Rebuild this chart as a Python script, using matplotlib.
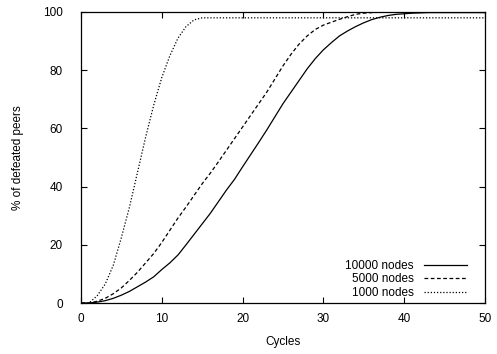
import numpy as np
import matplotlib.pyplot as plt

plt.rcParams['font.family'] = ['Liberation Sans', 'DejaVu Sans']

cycles = [0, 1, 2, 3, 4, 5, 6, 7, 8, 9, 10, 11, 12, 13, 14, 15, 16, 17, 18, 19,
          20, 21, 22, 23, 24, 25, 26, 27, 28, 29, 30, 31, 32, 33, 34, 35, 36, 37,
          38, 39, 40, 41, 42, 43, 44, 45, 46, 47, 48, 49, 50]

nodes_10000 = [0, 0, 0.3, 0.8, 1.6, 2.7, 4.0, 5.6, 7.2, 9.0, 11.5, 13.8, 16.5,
               20.0, 23.6, 27.2, 30.8, 34.8, 38.8, 42.5, 46.8, 51.0, 55.2, 59.5,
               64.0, 68.5, 72.5, 76.5, 80.5, 84.0, 87.0, 89.5, 91.8, 93.5, 95.0,
               96.3, 97.4, 98.2, 98.8, 99.2, 99.4, 99.6, 99.7, 99.8, 99.8, 99.8,
               99.8, 99.8, 99.8, 99.8, 99.8]
nodes_5000 = [0, 0, 0.6, 1.6, 3.2, 5.2, 7.8, 10.6, 13.8, 17.0, 20.8, 25.0, 29.2,
              33.0, 37.0, 41.0, 44.6, 48.5, 52.5, 56.5, 60.5, 64.5, 68.5, 72.5,
              77.0, 81.5, 85.5, 89.0, 91.8, 94.0, 95.5, 96.5, 97.5, 98.4, 99.2,
              99.6, 99.8, 99.9, 100, 100, 100, 100, 100, 100, 100, 100, 100, 100,
              100, 100, 100]
nodes_1000 = [0, 0, 2.5, 6.5, 13.0, 22.5, 33.0, 45.0, 57.0, 68.0, 77.5, 85.0,
              91.0, 95.0, 97.3, 98.0, 98.0, 98.0, 98.0, 98.0, 98.0, 98.0, 98.0,
              98.0, 98.0, 98.0, 98.0, 98.0, 98.0, 98.0, 98.0, 98.0, 98.0, 98.0,
              98.0, 98.0, 98.0, 98.0, 98.0, 98.0, 98.0, 98.0, 98.0, 98.0, 98.0,
              98.0, 98.0, 98.0, 98.0, 98.0, 98.0]

fig = plt.figure(figsize=(4.97, 3.54), dpi=100)
ax = fig.add_axes([81 / 497, 51 / 354, 404 / 497, 291 / 354])

ax.plot(cycles, nodes_10000, color='black', lw=0.9, ls='-', label='10000 nodes')
ax.plot(cycles, nodes_5000, color='black', lw=0.9, ls=(0, (3, 2)), label='5000 nodes')
ax.plot(cycles, nodes_1000, color='black', lw=0.9, ls=(0, (1, 1.5)), label='1000 nodes')

ax.set_xlim(0, 50)
ax.set_ylim(0, 100)
ax.set_xticks([0, 10, 20, 30, 40, 50])
ax.set_yticks([0, 20, 40, 60, 80, 100])
ax.tick_params(direction='in', top=True, right=True, length=4, width=0.8,
               labelsize=8.5, color='black')
ax.tick_params(axis='y', pad=13)
ax.tick_params(axis='x', pad=7)
for s in ax.spines.values():
    s.set_linewidth(0.9)

ax.set_xlabel('Cycles', fontsize=8.5, labelpad=8)
ax.set_ylabel('% of defeated peers', fontsize=8.5, labelpad=14)

ax.legend(loc='lower right', bbox_to_anchor=(0.955, 0.015), frameon=False,
          markerfirst=False, fontsize=8.5, handlelength=3.6, handletextpad=0.9,
          labelspacing=0.1, borderpad=0, borderaxespad=0)

fig.savefig('out.png', dpi=100)
